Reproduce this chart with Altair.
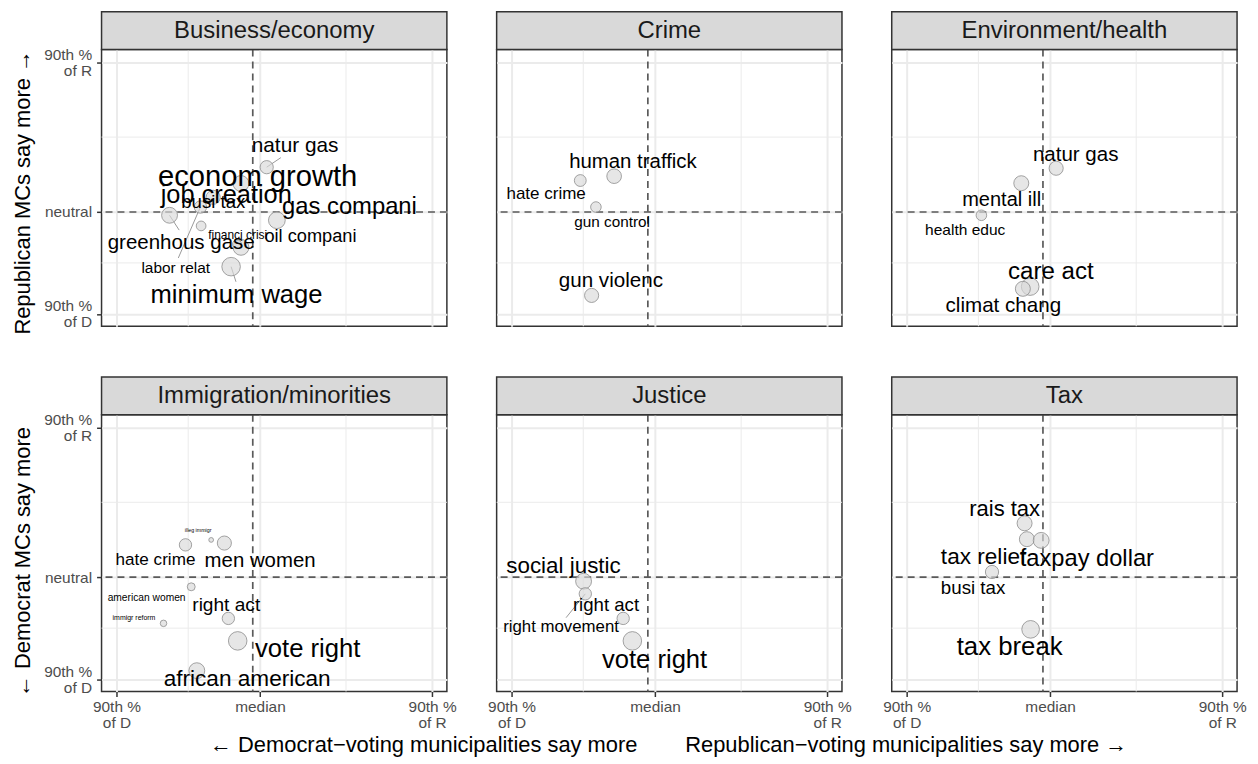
import altair as alt
import pandas as pd

FONT = "Liberation Sans, Arial, Helvetica, sans-serif"

# ---------------- data ----------------
facets = ["Business/economy", "Crime", "Environment/health",
          "Immigration/minorities", "Justice", "Tax"]

panel = (["Business/economy"] * 10 + ["Crime"] * 4 + ["Environment/health"] * 5
         + ["Immigration/minorities"] * 8 + ["Justice"] * 4 + ["Tax"] * 5)

term = ["natur gas", "econom growth", "job creation", "labor relat", "busi tax",
        "greenhous gase", "gas compani", "oil compani", "financi crisi", "minimum wage",
        "hate crime", "human traffick", "gun control", "gun violenc",
        "natur gas", "mental ill", "health educ", "care act", "climat chang",
        "hate crime", "illeg immigr", "men women", "american women", "immigr reform",
        "right act", "vote right", "african american",
        "social justic", "right movement", "right act", "vote right",
        "rais tax", "tax relief", "taxpay dollar", "busi tax", "tax break"]

# municipality slant (x) and MC slant (y), in percentile-scaled units
muni_slant = [0.047, -0.132, -0.326, -0.415, -0.410, -0.630, 0.118, -0.132, -0.160, -0.201,
              -0.521, -0.285, -0.412, -0.442,
              0.042, -0.201, -0.479, -0.139, -0.190,
              -0.519, -0.340, -0.248, -0.479, -0.672, -0.220, -0.155, -0.440,
              -0.498, -0.486, -0.222, -0.158,
              -0.178, -0.162, -0.0625, -0.405, -0.136]
mc_slant = [0.299, 0.190, 0.098, 0.033, -0.093, -0.022, -0.055, -0.236, -0.215, -0.365,
            0.210, 0.239, 0.033, -0.557,
            0.292, 0.192, -0.022, -0.498, -0.513,
            0.216, 0.249, 0.228, -0.064, -0.308, -0.275, -0.425, -0.624,
            -0.027, -0.111, -0.275, -0.425,
            0.360, 0.254, 0.246, 0.035, -0.348]
mentions = [44.2, 63.6, 50.3, 38.5, 23.8, 63.6, 70.9, 63.6, 19.6, 86.6,
            35.3, 54.1, 28.3, 50.3,
            50.3, 56.7, 28.3, 78.5, 56.7,
            38.5, 5.7, 50.3, 15.9, 10.8, 38.5, 86.6, 63.6,
            63.6, 38.5, 38.5, 86.6,
            56.7, 56.7, 63.6, 44.2, 78.5]
# repelled label positions and label weight
label_x = [0.245, -0.016, -0.235, -0.587, -0.325, -0.549, 0.624, 0.352, -0.155, -0.163,
           -0.759, -0.154, -0.299, -0.308,
           0.178, -0.338, -0.592, 0.005, -0.326,
           -0.728, -0.431, 0.001, -0.790, -0.878, -0.235, 0.333, -0.089,
           -0.638, -0.655, -0.342, -0.003,
           -0.317, -0.464, 0.256, -0.537, -0.282]
label_y = [0.443, 0.232, 0.111, -0.376, 0.066, -0.206, 0.033, -0.170, -0.155, -0.553,
           0.117, 0.336, -0.066, -0.464,
           0.383, 0.082, -0.121, -0.398, -0.626,
           0.113, 0.316, 0.106, -0.142, -0.270, -0.186, -0.480, -0.680,
           0.073, -0.332, -0.186, -0.553,
           0.455, 0.133, 0.121, -0.071, -0.469]
label_weight = [69.7, 97.7, 85.0, 51.7, 62.3, 68.7, 79.7, 61.0, 40.0, 85.7,
                57.0, 68.3, 51.3, 69.0,
                68.7, 67.0, 52.0, 80.7, 69.0,
                57.3, 17.7, 68.3, 34.3, 23.3, 64.0, 86.0, 75.7,
                75.0, 56.3, 62.3, 85.7,
                73.7, 75.7, 79.3, 62.7, 86.3]

# repel segments (point -> label edge)
seg_panel = ["Business/economy", "Business/economy", "Business/economy", "Business/economy", "Justice"]
seg_term = ["natur gas", "labor relat", "greenhous gase", "minimum wage", "right movement"]
seg_end_x = [0.146, -0.569, -0.563, -0.167, -0.620]
seg_end_y = [0.363, -0.307, -0.121, -0.466, -0.270]

x_major = [-1, 0, 1.2]
x_minor = [-0.5, 0.6]
y_major = [-0.68, 0, 1]
y_minor = [-0.34, 0.5]
median_muni = [-0.05]
neutral_mc = [0]

x_titles = {3: "← Democrat−voting municipalities say more",
            5: "Republican−voting municipalities say more →"}
y_titles = {0: "Republican MCs say more →", 3: "← Democrat MCs say more"}

df = pd.DataFrame({"panel": panel, "term": term, "x": muni_slant, "y": mc_slant,
                   "mentions": mentions, "lx": label_x, "ly": label_y,
                   "weight": label_weight})
seg = pd.DataFrame({"panel": seg_panel, "term": seg_term, "sx": seg_end_x, "sy": seg_end_y})
seg = seg.merge(df[["panel", "term", "x", "y"]], on=["panel", "term"])

W, H = 347, 278
X_DOMAIN = [-1.104, 1.303]
Y_DOMAIN = [-0.763, 1.084]

x_label_expr = ("datum.value == 0 ? 'median' : (datum.value < 0 ? ['90th %', 'of D'] "
                ": ['90th %', 'of R'])")
y_label_expr = ("datum.value == 0 ? 'neutral' : (datum.value > 0 ? ['90th %', 'of R'] "
                ": ['90th %', 'of D'])")


def make_panel(i, name):
    row, col = divmod(i, 3)
    xs = alt.Scale(domain=X_DOMAIN, nice=False, zero=False)
    ys = alt.Scale(domain=Y_DOMAIN, nice=False, zero=False)

    if row == 1:
        xkw = dict(values=x_major, labelExpr=x_label_expr, grid=True, ticks=True,
                   domain=False, labelFlush=False, labelOverlap=False)
        if i in x_titles:
            if i == 3:
                xkw.update(title=x_titles[i], titleAlign="right", titleX=538)
            else:
                xkw.update(title=x_titles[i], titleAlign="left", titleX=-208)
            xkw.update(titleY=53, titleBaseline="middle", titleAngle=0)
        else:
            xkw.update(title=None)
    else:
        xkw = dict(values=x_major, labels=False, ticks=False, domain=False, grid=True, title=None)

    if col == 0:
        ykw = dict(values=y_major, labelExpr=y_label_expr, grid=True, ticks=True,
                   domain=False, labelFlush=False, labelOverlap=False, labelPadding=5,
                   labelOffset={"condition": {"test": "datum.value != 0", "value": -8},
                                "value": 0},
                   title=y_titles[i], titleAngle=270, titleX=-79, titleBaseline="middle")
        if row == 0:
            ykw.update(titleAlign="right", titleY=0)
        else:
            ykw.update(titleAlign="left", titleY=H + 5)
    else:
        ykw = dict(values=y_major, labels=False, ticks=False, domain=False, grid=True, title=None)

    xaxis = alt.Axis(**xkw)
    yaxis = alt.Axis(**ykw)

    def X(f):
        return alt.X(f, scale=xs, axis=xaxis)

    def Y(f):
        return alt.Y(f, scale=ys, axis=yaxis)

    d = df[df.panel == name]
    s = seg[seg.panel == name]

    minor_x = alt.Chart(pd.DataFrame({"v": x_minor})).mark_rule(
        color="#EBEBEB", strokeWidth=1).encode(x=X("v:Q"))
    minor_y = alt.Chart(pd.DataFrame({"v": y_minor})).mark_rule(
        color="#EBEBEB", strokeWidth=1).encode(y=Y("v:Q"))
    vline = alt.Chart(pd.DataFrame({"v": median_muni})).mark_rule(
        color="#5A5A5A", strokeWidth=1.7, strokeDash=[7, 5]).encode(x=X("v:Q"))
    hline = alt.Chart(pd.DataFrame({"v": neutral_mc})).mark_rule(
        color="#5A5A5A", strokeWidth=1.7, strokeDash=[7, 5]).encode(y=Y("v:Q"))

    points = alt.Chart(d).mark_circle(
        fill="#D9D9D9", fillOpacity=0.65, stroke="#8C8C8C", strokeOpacity=0.8,
        strokeWidth=1).encode(
        x=X("x:Q"), y=Y("y:Q"),
        size=alt.Size("mentions:Q", scale=alt.Scale(domain=[0, 100], range=[0, 400]),
                      legend=None))
    labels = alt.Chart(d).mark_text(
        font=FONT, color="#000000", baseline="middle", align="center").encode(
        x=X("lx:Q"), y=Y("ly:Q"),
        text="term:N",
        size=alt.Size("weight:Q", scale=alt.Scale(domain=[0, 100], range=[0, 30]),
                      legend=None))

    strip_df = pd.DataFrame({"facet": [name]})
    strip_rect = alt.Chart(strip_df).mark_rect(
        fill="#D9D9D9", stroke="#333333", strokeWidth=1.5).encode(
        x=alt.value(0), x2=alt.value(W), y=alt.value(-38), y2=alt.value(0))
    strip_text = alt.Chart(strip_df).mark_text(
        font=FONT, fontSize=24, color="#1A1A1A", baseline="middle", align="center").encode(
        x=alt.value(W / 2), y=alt.value(-19), text="facet:N")

    layers = [minor_x, minor_y, vline, hline]
    if len(s):
        segs = alt.Chart(s).mark_rule(color="#999999", strokeWidth=1).encode(
            x=X("x:Q"), y=Y("y:Q"), x2="sx:Q", y2="sy:Q")
        layers.append(segs)
    layers += [points, labels, strip_rect, strip_text]
    return alt.layer(*layers).resolve_scale(size="independent").properties(width=W, height=H)


panels = [make_panel(i, f) for i, f in enumerate(facets)]

chart = alt.concat(*panels, columns=3, spacing={"row": 89, "column": 50}, bounds="flush").properties(
    padding={"left": 3, "top": 0, "right": 2, "bottom": 0}
).configure_view(
    stroke="#333333", strokeWidth=1.5
).configure_axis(
    labelFont=FONT, labelFontSize=15.5, labelColor="#4D4D4D", labelLineHeight=16,
    labelPadding=3, titleFont=FONT, titleFontSize=22, titleColor="#000000",
    titleFontWeight="normal", tickColor="#333333", tickWidth=1.5, tickSize=5,
    gridColor="#EBEBEB", gridWidth=2
)

chart.save("out.html", embed_options={"renderer": "svg", "actions": False})
